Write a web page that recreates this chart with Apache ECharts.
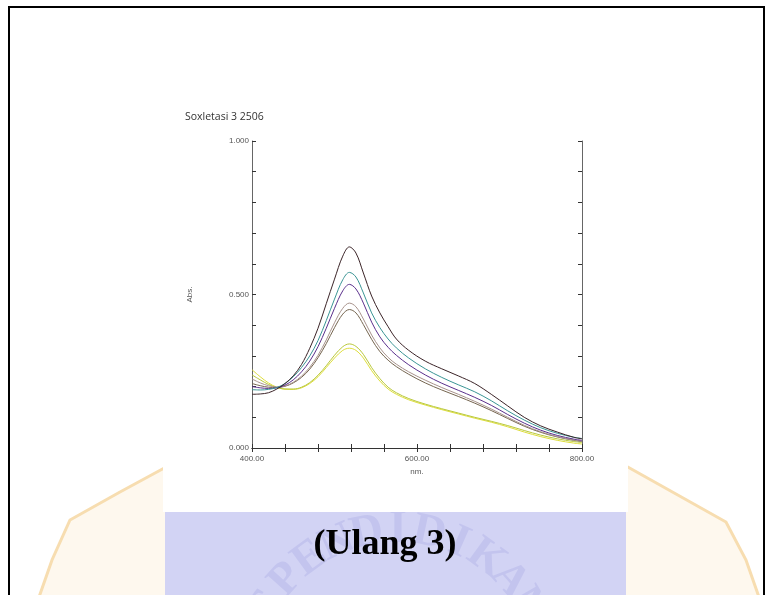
<!DOCTYPE html>
<html>
<head>
<meta charset="utf-8">
<script src="https://cdn.jsdelivr.net/npm/echarts@6/dist/echarts.min.js"></script>
<style>
  html, body { margin: 0; padding: 0; background: #fff; }
  #chart { width: 773px; height: 595px; }
</style>
</head>
<body>
<div id="chart"></div>
<script>
// wavelength grid (nm)
const wavelengths = [400, 410, 420, 430, 440, 450, 460, 470, 480, 490, 500, 510, 518, 526, 535, 545, 555, 565, 575, 590, 610, 630, 650, 670, 690, 710, 730, 750, 770, 790, 800];

// absorbance readings, one array per scan
const absDark   = [0.175, 0.176, 0.180, 0.192, 0.210, 0.235, 0.272, 0.325, 0.390, 0.470, 0.550, 0.625, 0.655, 0.635, 0.570, 0.495, 0.440, 0.395, 0.355, 0.318, 0.283, 0.258, 0.235, 0.210, 0.175, 0.137, 0.100, 0.072, 0.052, 0.035, 0.030];
const absTeal   = [0.190, 0.189, 0.191, 0.197, 0.210, 0.232, 0.262, 0.300, 0.350, 0.415, 0.485, 0.548, 0.572, 0.557, 0.505, 0.440, 0.392, 0.355, 0.326, 0.293, 0.258, 0.230, 0.206, 0.183, 0.154, 0.121, 0.091, 0.066, 0.048, 0.035, 0.031];
const absPurple = [0.200, 0.196, 0.194, 0.196, 0.205, 0.222, 0.248, 0.283, 0.330, 0.390, 0.455, 0.512, 0.533, 0.518, 0.472, 0.410, 0.362, 0.328, 0.302, 0.271, 0.238, 0.211, 0.188, 0.165, 0.139, 0.109, 0.081, 0.058, 0.041, 0.029, 0.025];
const absGrey   = [0.225, 0.212, 0.203, 0.199, 0.202, 0.214, 0.234, 0.263, 0.302, 0.352, 0.408, 0.455, 0.472, 0.460, 0.420, 0.368, 0.326, 0.295, 0.273, 0.248, 0.221, 0.197, 0.175, 0.152, 0.127, 0.100, 0.074, 0.053, 0.037, 0.026, 0.023];
const absBrown  = [0.210, 0.203, 0.198, 0.197, 0.201, 0.212, 0.230, 0.257, 0.294, 0.340, 0.392, 0.436, 0.451, 0.440, 0.402, 0.354, 0.314, 0.286, 0.265, 0.240, 0.212, 0.189, 0.168, 0.146, 0.122, 0.096, 0.071, 0.051, 0.036, 0.025, 0.021];
const absOlive  = [0.238, 0.222, 0.207, 0.197, 0.192, 0.192, 0.198, 0.213, 0.237, 0.268, 0.302, 0.330, 0.339, 0.331, 0.305, 0.262, 0.226, 0.198, 0.180, 0.161, 0.143, 0.128, 0.114, 0.100, 0.087, 0.073, 0.057, 0.042, 0.030, 0.021, 0.018];
const absYellow = [0.255, 0.232, 0.212, 0.198, 0.192, 0.191, 0.196, 0.210, 0.232, 0.262, 0.293, 0.318, 0.325, 0.318, 0.293, 0.252, 0.218, 0.192, 0.175, 0.157, 0.140, 0.125, 0.111, 0.097, 0.084, 0.069, 0.052, 0.037, 0.025, 0.016, 0.013];

const scanNames  = ['scan 1', 'scan 2', 'scan 3', 'scan 4', 'scan 5', 'scan 6', 'scan 7'];
const scanValues = [absYellow, absOlive, absBrown, absGrey, absPurple, absTeal, absDark];
const scanColors = ['#dede3a', '#b9c83a', '#75654f', '#a8938c', '#5a2f8c', '#3a9595', '#3b2428'];

// axis labels
const xTickLabels = [400, 600, 800];
const yTickLabels = [0, 0.5, 1];

const chartDom = document.getElementById('chart');
const chart = echarts.init(chartDom, null, { renderer: 'canvas' });

const tickFont = { fontFamily: 'Liberation Sans', fontSize: 8, color: '#555' };

// letters of the faded watermark, laid on an arc
const markWord = 'SPENDIDIKAN';
const markGraphics = [];
for (let i = 0; i < markWord.length; i++) {
    const a = (-60 + i * 12) * Math.PI / 180;
    markGraphics.push({
        type: 'text', z: -8,
        x: 398 + 150 * Math.sin(a),
        y: 680 - 150 * Math.cos(a),
        rotation: -a,
        style: {
            text: markWord[i], fill: '#c3c4ee',
            font: 'bold 46px "Liberation Serif"',
            align: 'center', verticalAlign: 'middle'
        }
    });
}

const option = {
    animation: false,
    backgroundColor: '#fff',
    title: {
        text: 'Soxletasi 3 2506',
        left: 180,
        top: 107,
        textStyle: { fontFamily: 'Open Sans', fontSize: 10.5, fontWeight: 'normal', color: '#333' }
    },
    grid: { left: 252, top: 141, width: 330, height: 307, containLabel: false },
    xAxis: [{
        type: 'value',
        min: 400, max: 800, interval: 40,
        name: 'nm.', nameLocation: 'middle', nameGap: 19,
        nameTextStyle: tickFont,
        axisLine: { lineStyle: { color: '#333', width: 1 } },
        axisTick: { inside: true, length: 4, lineStyle: { color: '#333' } },
        axisLabel: {
            margin: 7, ...tickFont,
            formatter: v => xTickLabels.indexOf(v) >= 0 ? v.toFixed(2) : ''
        },
        splitLine: { show: false }
    }, {
        type: 'value', position: 'top',
        min: 400, max: 800, interval: 40,
        axisLine: { lineStyle: { color: '#333', width: 1 } },
        axisTick: { inside: true, length: 4, lineStyle: { color: '#333' } },
        axisLabel: { show: false },
        splitLine: { show: false }
    }],
    yAxis: [{
        type: 'value',
        min: 0, max: 1, interval: 0.1,
        name: 'Abs.', nameLocation: 'middle', nameGap: 58, nameRotate: 90,
        nameTextStyle: tickFont,
        axisLine: { show: true, lineStyle: { color: '#666', width: 1 } },
        axisTick: { show: true, inside: true, length: 4, lineStyle: { color: '#333' } },
        axisLabel: {
            margin: 3, ...tickFont,
            formatter: v => yTickLabels.some(t => Math.abs(t - v) < 1e-6) ? v.toFixed(3) : ''
        },
        splitLine: { show: false }
    }, {
        type: 'value', position: 'right',
        min: 0, max: 1, interval: 0.1,
        axisLine: { show: true, lineStyle: { color: '#666', width: 1 } },
        axisTick: { show: true, inside: true, length: 4, lineStyle: { color: '#333' } },
        axisLabel: { show: false },
        splitLine: { show: false }
    }],
    graphic: [
        // side ornaments of the watermark
        { type: 'polygon', z: -10, shape: { points: [[168, 466], [120, 492], [70, 520], [52, 560], [38, 600], [168, 600]] },
          style: { fill: '#fef8ee' } },
        { type: 'polyline', z: -10, shape: { points: [[168, 466], [120, 492], [70, 520], [52, 560], [38, 600]] },
          style: { stroke: '#f7ddb0', lineWidth: 3, fill: 'none' } },
        { type: 'polygon', z: -10, shape: { points: [[626, 466], [676, 494], [726, 522], [746, 560], [760, 600], [626, 600]] },
          style: { fill: '#fef8ee' } },
        { type: 'polyline', z: -10, shape: { points: [[626, 466], [676, 494], [726, 522], [746, 560], [760, 600]] },
          style: { stroke: '#f7ddb0', lineWidth: 3, fill: 'none' } },
        // lavender block of the watermark
        { type: 'rect', z: -9, shape: { x: 165, y: 470, width: 461, height: 200, r: 30 },
          style: { fill: '#d2d3f4' } },
        ...markGraphics,
        // white backing of the chart picture
        { type: 'rect', z: -7, shape: { x: 163, y: 0, width: 465, height: 512 }, style: { fill: '#fff' } },
        // page frame
        { type: 'rect', z: 20, shape: { x: 9, y: 7, width: 755, height: 600 },
          style: { fill: 'none', stroke: '#000', lineWidth: 2 } },
        { type: 'text', z: 20, x: 385, y: 545,
          style: { text: '(Ulang 3)', font: 'bold 36px "Liberation Serif"', fill: '#000',
                   align: 'center', verticalAlign: 'middle' } }
    ],
    series: scanValues.map((vals, k) => ({
        name: scanNames[k],
        type: 'line',
        smooth: 0.35,
        showSymbol: false,
        xAxisIndex: 0, yAxisIndex: 0,
        lineStyle: { width: 1, color: scanColors[k] },
        itemStyle: { color: scanColors[k] },
        data: wavelengths.map((w, i) => [w, vals[i]])
    }))
};

chart.setOption(option);
window.addEventListener('resize', function () {
    chart.resize();
});
</script>
</body>
</html>
